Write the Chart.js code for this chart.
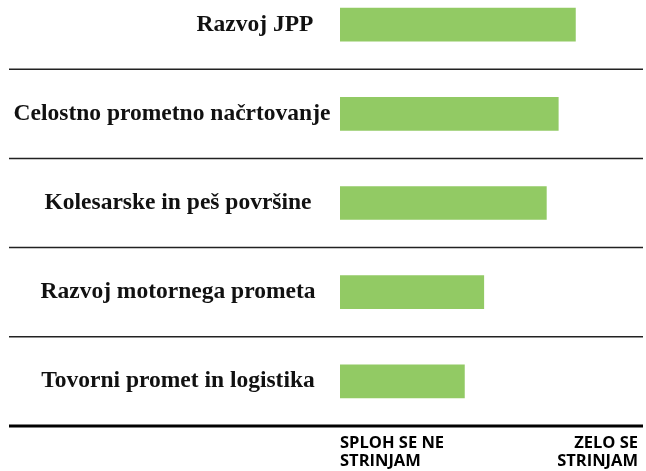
<!DOCTYPE html>
<html>
<head>
<meta charset="utf-8">
<script src="https://cdn.jsdelivr.net/npm/chart.js@4"></script>
<style>
  html, body { margin: 0; padding: 0; background: #fff; overflow: hidden; }
  #wrap { position: relative; width: 646px; height: 471px; overflow: hidden; }
  #chart { position: absolute; left: 0; top: -20px; }
</style>
</head>
<body>
<div id="wrap"><canvas id="chart" width="646" height="491"></canvas></div>
<script>
var categories = ["Razvoj JPP", "Celostno prometno načrtovanje", "Kolesarske in peš površine", "Razvoj motornega prometa", "Tovorni promet in logistika"];
var values = [4.16, 3.93, 3.77, 2.93, 2.67];
var scaleMin = 1;
var scaleMax = 5;
var tickLabels = { 1: ["SPLOH SE NE", "STRINJAM"], 5: ["ZELO SE", "STRINJAM"] };

// where each category label is centred (the first one sits further right)
var labelCenterX = [255, 172, 178, 178, 178];

var rowLines = {
    id: "rowLines",
    afterDraw: function(chart){
        var ctx = chart.ctx;
        var y = chart.scales.y;
        var area = chart.chartArea;
        ctx.save();
        // separators between categories
        ctx.strokeStyle = "#222";
        ctx.lineWidth = 1.5;
        for(let i = 0; i < categories.length - 1; i++){
            let py = (y.getPixelForValue(i) + y.getPixelForValue(i + 1)) / 2;
            ctx.beginPath();
            ctx.moveTo(9, py);
            ctx.lineTo(chart.width - 3, py);
            ctx.stroke();
        }
        // bottom axis line
        ctx.strokeStyle = "#000";
        ctx.lineWidth = 3;
        ctx.beginPath();
        ctx.moveTo(9, area.bottom);
        ctx.lineTo(chart.width - 3, area.bottom);
        ctx.stroke();
        // category labels
        ctx.fillStyle = "#111";
        ctx.font = "bold 23.5px 'Liberation Serif', serif";
        ctx.textAlign = "center";
        ctx.textBaseline = "middle";
        for(let i = 0; i < categories.length; i++){
            ctx.fillText(categories[i], labelCenterX[i], y.getPixelForValue(i));
        }
        ctx.restore();
    }
};

new Chart(document.getElementById("chart"), {
    type: "bar",
    data: {
        labels: categories,
        datasets: [{
            data: values,
            base: scaleMin,
            backgroundColor: "#92CA64",
            borderWidth: 0,
            barThickness: 33
        }]
    },
    options: {
        indexAxis: "y",
        responsive: false,
        animation: false,
        layout: { padding: { left: 0, right: -2, top: 0, bottom: 0 } },
        plugins: { legend: { display: false }, tooltip: { enabled: false } },
        scales: {
            x: {
                min: scaleMin,
                max: scaleMax,
                grid: { display: false, drawTicks: false },
                border: { display: false },
                afterFit: function(scale){ scale.height = 45; },
                afterBuildTicks: function(scale){
                    scale.ticks = [{ value: scaleMin }, { value: scaleMax }];
                },
                ticks: {
                    align: "inner",
                    maxRotation: 0,
                    padding: 8,
                    color: "#000",
                    font: { family: "'Open Sans', sans-serif", size: 16.5, weight: "bold", lineHeight: 1.12 },
                    callback: function(v){ return tickLabels[v] || ""; }
                }
            },
            y: {
                grid: { display: false, drawTicks: false },
                border: { display: false },
                ticks: { display: false },
                afterFit: function(scale){ scale.width = 340; }
            }
        }
    },
    plugins: [rowLines]
});
</script>
</body>
</html>
